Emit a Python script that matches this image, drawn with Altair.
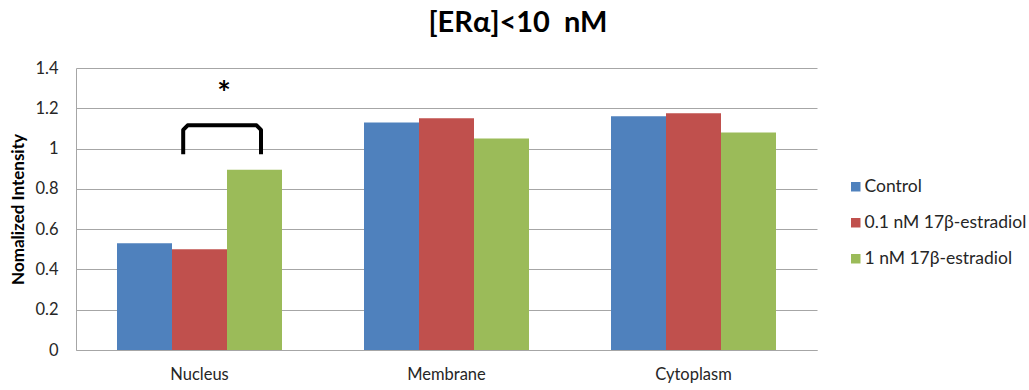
import altair as alt
import pandas as pd

# Bar data
compartments = ["Nucleus", "Membrane", "Cytoplasm"]
treatments = ["Control", "0.1 nM 17β-estradiol", "1 nM 17β-estradiol"]
control = [0.53, 1.13, 1.16]
estradiol_01 = [0.50, 1.15, 1.175]
estradiol_1 = [0.895, 1.05, 1.08]
colors = ["#4F81BD", "#C0504D", "#9BBB59"]
y_ticks = [0, 0.2, 0.4, 0.6, 0.8, 1.0, 1.2, 1.4]

# Significance bracket over the Nucleus group (x in category units, 0-3 across the plot)
bracket_x = [0.434, 0.434, 0.452, 0.731, 0.749, 0.749]
bracket_y = [0.972, 1.093, 1.1155, 1.1155, 1.093, 0.972]
star_x = [0.599]
star_y = [1.307]

FONT = "Lato"
TEXT = "#262626"
GRID = "#a6a6a6"

series = [control, estradiol_01, estradiol_1]
rows = []
for t, vals in zip(treatments, series):
    for c, v in zip(compartments, vals):
        rows.append({"compartment": c, "treatment": t, "value": v})
bars_df = pd.DataFrame(rows)

bracket_df = pd.DataFrame({"bx": bracket_x, "value": bracket_y, "i": list(range(len(bracket_x)))})
star_df = pd.DataFrame({"bx": star_x, "value": star_y})

y_enc = alt.Y(
    "value:Q",
    scale=alt.Scale(domain=[0, 1.4], nice=False, zero=True),
    axis=alt.Axis(
        values=y_ticks,
        format="~g",
        title="Nomalized Intensity",
        titleFontSize=17,
        titleFontWeight="bold",
        titleColor="black",
        titleX=-58,
        titleY=141,
        titleAngle=-90,
        titleBaseline="middle",
        labelFontSize=16.5,
        labelColor=TEXT,
        labelPadding=18,
        ticks=False,
        domainColor=GRID,
        gridColor=GRID,
        grid=True,
    ),
)

bars = alt.Chart(bars_df).mark_bar().encode(
    x=alt.X(
        "compartment:N",
        sort=compartments,
        scale=alt.Scale(paddingInner=0.332, paddingOuter=0.166),
        axis=alt.Axis(
            title=None,
            labelAngle=0,
            ticks=False,
            labelPadding=16,
            labelFontSize=16.5,
            labelColor=TEXT,
            domainColor=GRID,
            grid=False,
        ),
    ),
    xOffset=alt.XOffset("treatment:N", sort=treatments),
    y=y_enc,
    color=alt.Color(
        "treatment:N",
        sort=treatments,
        scale=alt.Scale(domain=treatments, range=colors),
        legend=alt.Legend(
            title=None,
            orient="none",
            legendX=771,
            legendY=110,
            symbolType="square",
            symbolSize=90,
            symbolStrokeWidth=0,
            labelFontSize=17.5,
            labelColor=TEXT,
            labelOffset=0,
            labelLimit=400,
            rowPadding=17,
        ),
    ),
)

ann_x = alt.Scale(domain=[0, 3], nice=False, zero=False)

bracket = alt.Chart(bracket_df).mark_line(
    color="black", strokeWidth=4, strokeJoin="round", strokeCap="butt"
).encode(
    x=alt.X("bx:Q", scale=ann_x, axis=None),
    y=alt.Y("value:Q"),
    order="i:O",
)

star = alt.Chart(star_df).mark_text(
    text="*", fontSize=32, fontWeight="bold", color="black", font=FONT, dy=8
).encode(
    x=alt.X("bx:Q", scale=ann_x, axis=None),
    y=alt.Y("value:Q"),
)

chart = (
    alt.layer(bars, bracket, star)
    .resolve_scale(x="independent")
    .properties(
        width=741,
        height=282,
        autosize=alt.AutoSizeParams(type="none"),
        padding={"left": 76, "top": 68, "right": 212, "bottom": 40},
        title=alt.Title(
            "[ERα]<10\u00a0 nM",
            fontSize=29,
            fontWeight="bold",
            font=FONT,
            color="black",
            anchor="middle",
            frame="bounds",
            offset=22,
        ),
    )
    .configure(font=FONT, background="white")
    .configure_view(stroke=None)
)

chart.save("out.html", embed_options={"renderer": "svg", "actions": False})
